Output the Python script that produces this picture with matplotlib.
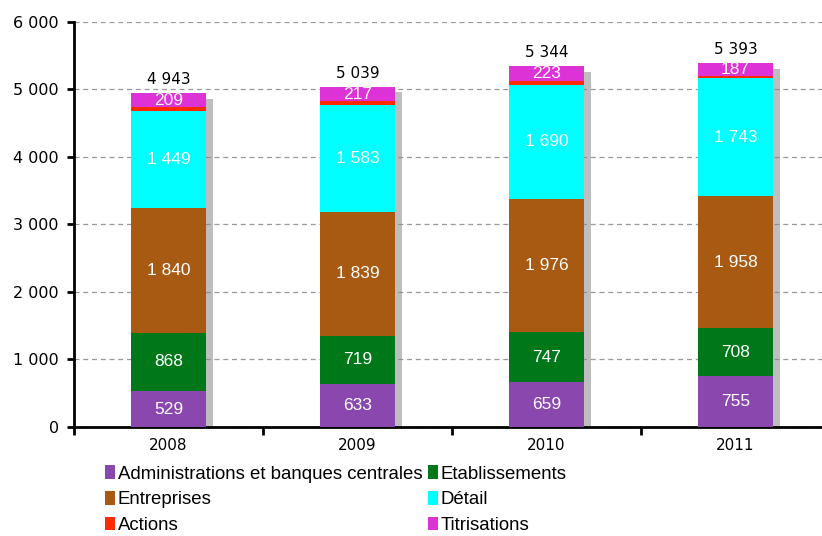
import matplotlib
matplotlib.use("Agg")
import matplotlib.pyplot as plt
import matplotlib.patheffects as pe
import numpy as np

years = ["2008", "2009", "2010", "2011"]
series_names = ["Administrations et banques centrales", "Etablissements",
                "Entreprises", "Détail", "Actions", "Titrisations"]
admin = [529, 633, 659, 755]
etab = [868, 719, 747, 708]
entreprises = [1840, 1839, 1976, 1958]
detail = [1449, 1583, 1690, 1743]
actions = [48, 48, 49, 42]
titrisations = [209, 217, 223, 187]
totals = [4943, 5039, 5344, 5393]
yticks = [0, 1000, 2000, 3000, 4000, 5000, 6000]

colors = ["#8A47AE", "#00781A", "#A85A12", "#00FFFF", "#FF2A00", "#DD33D6"]
series = [admin, etab, entreprises, detail, actions, titrisations]
show_label = [True, True, True, True, False, True]

def fmt(v):
    return f"{v:,}".replace(",", " ")

plt.rcParams['font.family'] = ['Liberation Sans', 'DejaVu Sans']
fig = plt.figure(figsize=(8.22, 5.36), dpi=100)
ax = fig.add_axes([0.090, 0.2034, 0.91, 0.7556])

x = np.arange(len(years))
width = 0.40

# shadow behind each full stack
shadow = [pe.SimplePatchShadow(offset=(5, -4), shadow_rgbFace='#8a8a8a', alpha=0.55)]
sb = ax.bar(x, totals, width=width, color='none', linewidth=0, zorder=2)
for b in sb:
    b.set_path_effects(shadow)

bottom = np.zeros(len(years))
for vals, col, name, lab in zip(series, colors, series_names, show_label):
    ax.bar(x, vals, width=width, bottom=bottom, color=col, label=name,
           zorder=3, linewidth=0)
    if lab:
        for xi, v, b0 in zip(x, vals, bottom):
            ax.text(xi, b0 + v / 2, fmt(v), ha='center', va='center',
                    color='white', fontsize=12.5, zorder=5)
    bottom = bottom + np.array(vals)

for xi, t in zip(x, totals):
    ax.text(xi, t + 90, fmt(t), ha='center', va='bottom', color='black',
            fontsize=11, family=['DejaVu Sans'], zorder=5)

ax.set_ylim(0, 6000)
ax.set_xlim(-0.5, 3.458)
ax.set_yticks(yticks)
ax.set_yticklabels([fmt(v) for v in yticks], fontsize=11.5, family=['DejaVu Sans'])
ax.yaxis.grid(True, linestyle=(0, (4, 3)), color='#999999', linewidth=0.9, zorder=0)
ax.set_axisbelow(True)

ax.set_xticks(x)
ax.set_xticklabels(years, fontsize=11, family=['DejaVu Sans'])
ax.tick_params(axis='x', length=0, pad=8)
ax.set_xticks([-0.5, 0.5, 1.5, 2.5], minor=True)
ax.tick_params(axis='x', which='minor', length=6, width=2, direction='out')
ax.tick_params(axis='y', length=5, width=2, direction='out', pad=6)

for s in ['top', 'right']:
    ax.spines[s].set_visible(False)
ax.spines['left'].set_linewidth(2)
ax.spines['bottom'].set_linewidth(2)

handles, labels = ax.get_legend_handles_labels()
order = [0, 2, 4, 1, 3, 5]
leg = fig.legend([handles[i] for i in order], [labels[i] for i in order],
                 ncol=2, loc='upper left', bbox_to_anchor=(0.128, 0.132),
                 frameon=False, fontsize=13.4, handlelength=0.55, handleheight=0.75,
                 handletextpad=0.12, columnspacing=0.31, labelspacing=0.45,
                 borderaxespad=0, borderpad=0)

fig.savefig("out.png", dpi=100)
